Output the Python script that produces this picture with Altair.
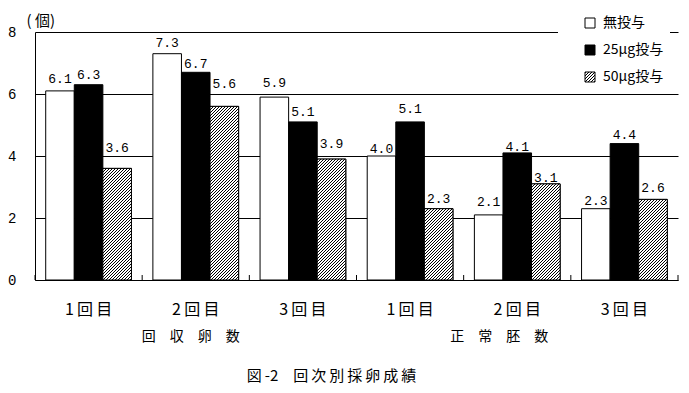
import altair as alt
import pandas as pd

# ---- data ----
categories = ["回収卵数", "正常胚数"]
category_labels = ["回　収　卵　数", "正　常　胚　数"]
rounds = ["1回目", "2回目", "3回目"]
series = ["無投与", "25μg投与", "50μg投与"]
values = {
    "無投与":   [6.1, 7.3, 5.9, 4.0, 2.1, 2.3],
    "25μg投与": [6.3, 6.7, 5.1, 5.1, 4.1, 4.4],
    "50μg投与": [3.6, 5.6, 3.9, 2.3, 3.1, 2.6],
}
y_ticks = [0, 2, 4, 6, 8]
unit_label = "( 個)"
chart_title = "図\u2009-2　回\u2009次\u2009別\u2009採\u2009卵\u2009成\u2009績"

# ---- styling: how far (px) each value label sits above its bar, as in the reference ----
label_lift_px = {
    "無投与":   [8, 7, 10, 3, 9, 4],
    "25μg投与": [6, 4, 6, 9, 2, 5],
    "50μg投与": [16, 18, 11, 6, 2, 7],
}

# ---- layout ----
W, H = 643, 248
YMAX = 8
PAD_INNER, PAD_OUTER = 0.2, 0.1
JP = "Noto Sans CJK JP"
NUM = "Liberation Mono"

keys = [f"{c}|{r}" for c in categories for r in rounds]
rows = []
for s in series:
    for k, v, lift in zip(keys, values[s], label_lift_px[s]):
        rows.append({"key": k, "series": s, "value": v, "label": f"{v:.1f}", "lift": lift})
df = pd.DataFrame(rows)

step = W / (len(keys) - PAD_INNER + 2 * PAD_OUTER)
bar_w = step * (1 - PAD_INNER) / len(series)
outer = step * PAD_OUTER


def hatch(w, h, gid=None, period=3.0, black=1.0):
    L = w + h
    s = L / (w * w + h * h)
    stops = []
    k = 0
    while k * period < L:
        a = k * period / L
        b = min((k * period + black) / L, 1)
        c = min((k + 1) * period / L, 1)
        stops += [
            {"offset": a, "color": "black"},
            {"offset": b, "color": "black"},
            {"offset": b, "color": "white"},
            {"offset": c, "color": "white"},
        ]
        k += 1
    g = dict(gradient="linear", stops=stops, x1=0, y1=0, x2=s * w, y2=s * h)
    if gid:
        g["id"] = gid
    return g


x_enc = alt.X(
    "key:N",
    sort=keys,
    scale=alt.Scale(paddingInner=PAD_INNER, paddingOuter=PAD_OUTER),
    axis=alt.Axis(
        title=None,
        labelExpr="join(split(split(datum.label, '|')[1], ''), '\u2009')",
        labelAngle=0,
        ticks=False,
        domainColor="black",
        labelColor="black",
        labelFont=JP,
        labelFontSize=16,
        labelPadding=21,
    ),
)
xo_enc = alt.XOffset("series:N", sort=series, scale=alt.Scale(paddingInner=0, paddingOuter=0))
y_enc = alt.Y(
    "value:Q",
    scale=alt.Scale(domain=[0, YMAX], nice=False),
    axis=alt.Axis(
        values=y_ticks,
        grid=True,
        gridColor="black",
        gridOpacity=1,
        gridWidth=1,
        ticks=False,
        domainColor="black",
        labelColor="black",
        labelFont=NUM,
        labelFontSize=14,
        labelPadding=19,
        title=unit_label,
        titleAngle=0,
        titleX=-9,
        titleY=-12,
        titleAlign="left",
        titleBaseline="middle",
        titleFont=JP,
        titleFontSize=15,
        titleFontWeight="normal",
        titleColor="black",
    ),
)

base = alt.Chart(df)

bars = base.mark_bar(stroke="black", strokeWidth=1).encode(
    x=x_enc,
    xOffset=xo_enc,
    y=y_enc,
    fill=alt.Fill(
        "series:N",
        sort=series,
        scale=alt.Scale(domain=series, range=["white", "black", "url(#hatchLegend)"]),
        legend=alt.Legend(
            title=None,
            orient="none",
            legendX=523,
            legendY=-22,
            fillColor="white",
            padding=6,
            symbolType="square",
            symbolSize=100,
            symbolStrokeColor="black",
            symbolStrokeWidth=1,
            symbolOffset=19,
            labelFont=JP,
            labelFontSize=14,
            labelColor="black",
            labelOffset=6,
            rowPadding=13,
        ),
    ),
)

layers = [bars]

# hatched overlays, one gradient per bar so stripes stay at 45 degrees
for k, v in zip(keys, values["50μg投与"]):
    h = v * H / YMAX
    layers.append(
        base.transform_filter(
            (alt.datum.series == "50μg投与") & (alt.datum.key == k)
        )
        .mark_bar(stroke="black", strokeWidth=1, fill=hatch(bar_w, h))
        .encode(x=alt.X("key:N", sort=keys), xOffset=alt.XOffset("series:N", sort=series), y="value:Q")
    )

# invisible carrier for the legend symbol gradient definition
layers.append(
    base.transform_filter(alt.datum.series == "50μg投与")
    .transform_filter(alt.datum.key == keys[0])
    .mark_bar(fill=hatch(10, 10, gid="hatchLegend"), strokeWidth=0)
    .encode(x=alt.X("key:N", sort=keys), xOffset=alt.XOffset("series:N", sort=series), y=alt.value(H), y2=alt.value(H))
)

labels = (
    base.transform_calculate(label_y=f"datum.value + datum.lift * {YMAX} / {H}")
    .mark_text(baseline="alphabetic", font=NUM, fontSize=13, color="black")
    .encode(
        x=alt.X("key:N", sort=keys),
        xOffset=alt.XOffset("series:N", sort=series),
        y="label_y:Q",
        text="label:N",
    )
)
layers.append(labels)

# inward ticks at group boundaries
tick_df = pd.DataFrame({"key": keys})
ticks = alt.Chart(tick_df).mark_rule(color="black", xOffset=-outer).encode(
    x=alt.X("key:N", sort=keys, bandPosition=0),
    y=alt.value(H - 5),
    y2=alt.value(H),
)
end_tick = alt.Chart(tick_df).transform_filter(alt.datum.key == keys[-1]).mark_rule(
    color="black", xOffset=outer
).encode(
    x=alt.X("key:N", sort=keys, bandPosition=1),
    y=alt.value(H - 5),
    y2=alt.value(H),
)
layers += [ticks, end_tick]

# group captions under the middle round of each category
cap_df = pd.DataFrame({"key": [f"{c}|{rounds[1]}" for c in categories], "text": category_labels})
for i, shift in enumerate([-5, -18]):
    layers.append(
        alt.Chart(cap_df.iloc[[i]])
        .mark_text(font=JP, fontSize=14, color="black", baseline="middle", dx=shift)
        .encode(x=alt.X("key:N", sort=keys), y=alt.value(H + 57), text="text:N")
    )

chart = (
    alt.layer(*layers)
    .properties(
        width=W,
        height=H,
        autosize=alt.AutoSizeParams(type="none"),
        padding={"left": 27, "top": 24, "right": 3, "bottom": 108},
        title=alt.TitleParams(
            chart_title,
            orient="bottom",
            anchor="middle",
            dx=-25,
            offset=25,
            font=JP,
            fontSize=15,
            fontWeight="normal",
            color="black",
        ),
    )
    .configure_view(stroke=None)
    .configure_axis(labelFontWeight="normal")
)

chart.save("out.html", embed_options={"renderer": "svg", "actions": False})
